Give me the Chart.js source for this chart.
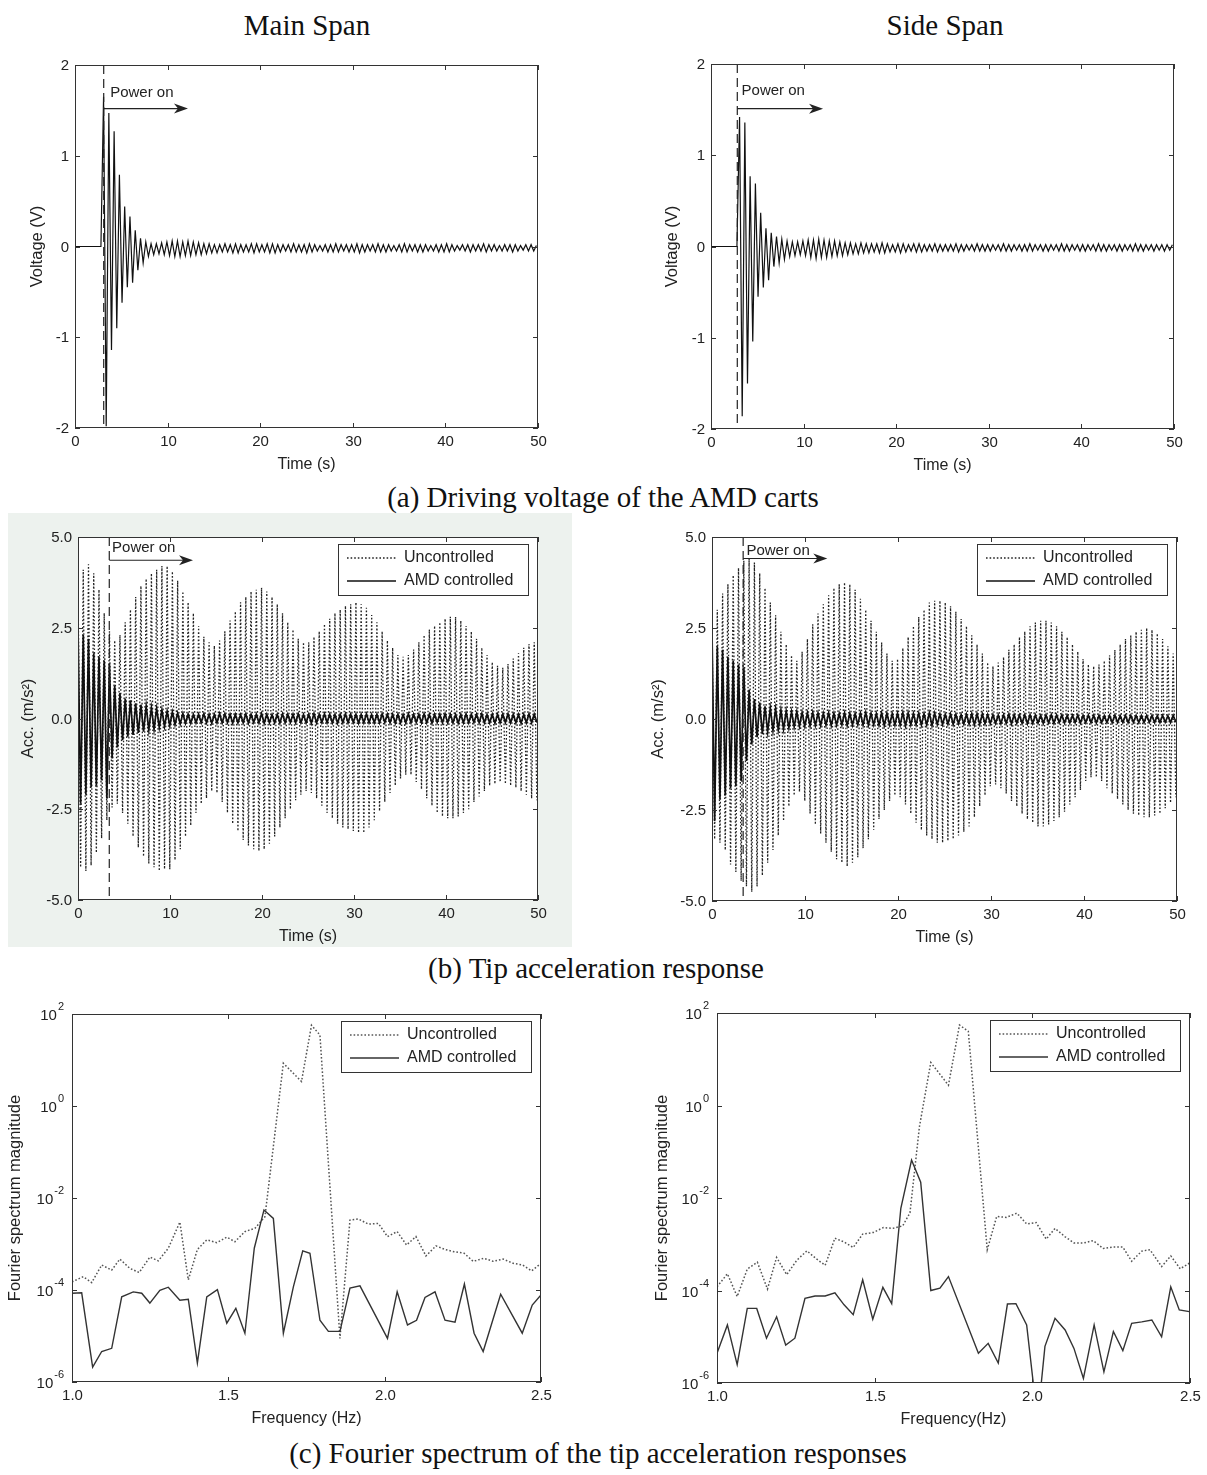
<!DOCTYPE html>
<html>
<head>
<meta charset="utf-8">
<script src="https://cdn.jsdelivr.net/npm/chart.js@4/dist/chart.umd.min.js"></script>
<style>
  body { margin: 0; width: 1207px; height: 1475px; position: relative; overflow: hidden; background: #fff; }
  canvas { position: absolute; }
  .cap { position: absolute; transform: translate(-50%, -50%); white-space: nowrap;
         font-family: "Liberation Serif", "Times New Roman", serif; font-size: 29px; color: #111; }
  #shade { position: absolute; left: 8px; top: 513px; width: 564px; height: 434px; background: #edf2ee; }
</style>
</head>
<body>
<div id="shade"></div>
<div class="cap" style="left:307px;top:25px">Main Span</div>
<div class="cap" style="left:945px;top:25px">Side Span</div>
<div class="cap" style="left:603px;top:497px">(a) Driving voltage of the AMD carts</div>
<div class="cap" style="left:596px;top:968px">(b) Tip acceleration response</div>
<div class="cap" style="left:598px;top:1453px">(c) Fourier spectrum of the tip acceleration responses</div>

<canvas id="voltMainChart"></canvas>
<canvas id="voltSideChart"></canvas>
<canvas id="accMainChart"></canvas>
<canvas id="accSideChart"></canvas>
<canvas id="fftMainChart"></canvas>
<canvas id="fftSideChart"></canvas>

<script>
// peak values are stored once per half cycle, sampled every timeStep seconds
const timeStep = 0.285;
const voltStart = 2.8;

const timeTicks = [0, 10, 20, 30, 40, 50];
const voltTicks = [-2, -1, 0, 1, 2];
const accTicks = [-5, -2.5, 0, 2.5, 5];
const accTickLabels = ['-5.0', '-2.5', '0.0', '2.5', '5.0'];
const freqTicks = [1, 1.5, 2, 2.5];
const freqTickLabels = ['1.0', '1.5', '2.0', '2.5'];
const magTicks = [1e-6, 1e-4, 1e-2, 1, 100];
const magExponents = ['-6', '-4', '-2', '0', '2'];

// driving voltage (V), from the moment the AMD is switched on
const voltMain = [
  0, 1.65, -1.98, 1.47, -1.14, 1.27, -0.9, 0.79, -0.62, 0.44,
  -0.45, 0.33, -0.4, 0.18, -0.26, 0.09, -0.18, 0.05, -0.11, 0.03,
  -0.09, 0.03, -0.08, 0.04, -0.09, 0.05, -0.1, 0.06, -0.11, 0.06,
  -0.11, 0.05, -0.1, 0.06, -0.1, 0.05, -0.09, 0.04, -0.09, 0.03,
  -0.08, 0.03, -0.07, 0.02, -0.07, 0.02, -0.06, 0.03, -0.06, 0.02,
  -0.07, 0.03, -0.07, 0.02, -0.06, 0.02, -0.06, 0.03, -0.07, 0.03,
  -0.06, 0.02, -0.06, 0.03, -0.07, 0.03, -0.07, 0.02, -0.06, 0.02,
  -0.05, 0.02, -0.06, 0.03, -0.06, 0.02, -0.06, 0.02, -0.07, 0.03,
  -0.06, 0.02, -0.05, 0.01, -0.05, 0.02, -0.06, 0.02, -0.06, 0.03,
  -0.06, 0.02, -0.05, 0.02, -0.06, 0.02, -0.06, 0.03, -0.07, 0.02,
  -0.06, 0.02, -0.05, 0.02, -0.06, 0.03, -0.06, 0.02, -0.06, 0.02,
  -0.05, 0.01, -0.05, 0.02, -0.06, 0.03, -0.06, 0.02, -0.05, 0.02,
  -0.06, 0.02, -0.06, 0.02, -0.05, 0.01, -0.05, 0.02, -0.06, 0.02,
  -0.06, 0.03, -0.06, 0.02, -0.05, 0.01, -0.04, 0.02, -0.05, 0.02,
  -0.06, 0.02, -0.05, 0.02, -0.05, 0.03, -0.06, 0.02, -0.05, 0.02,
  -0.05, 0.01, -0.05, 0.02, -0.05, 0.02, -0.06, 0.02, -0.05, 0.01,
  -0.04, 0.02, -0.05, 0.02, -0.05, 0.01
];
const voltSide = [
  0, 1.42, -1.86, 1.36, -1.5, 0.77, -1.04, 0.69, -0.55, 0.37,
  -0.45, 0.2, -0.37, 0.15, -0.22, 0.11, -0.18, 0.08, -0.14, 0.06,
  -0.11, 0.05, -0.1, 0.05, -0.09, 0.06, -0.1, 0.07, -0.12, 0.07,
  -0.13, 0.08, -0.12, 0.07, -0.12, 0.06, -0.11, 0.06, -0.1, 0.05,
  -0.1, 0.04, -0.09, 0.04, -0.08, 0.03, -0.08, 0.04, -0.07, 0.03,
  -0.07, 0.03, -0.06, 0.03, -0.07, 0.04, -0.07, 0.03, -0.06, 0.02,
  -0.06, 0.03, -0.07, 0.03, -0.06, 0.02, -0.05, 0.03, -0.06, 0.03,
  -0.06, 0.02, -0.05, 0.02, -0.05, 0.03, -0.06, 0.02, -0.05, 0.02,
  -0.05, 0.02, -0.05, 0.03, -0.06, 0.02, -0.05, 0.02, -0.04, 0.02,
  -0.05, 0.03, -0.05, 0.02, -0.05, 0.02, -0.05, 0.02, -0.04, 0.02,
  -0.05, 0.03, -0.05, 0.02, -0.05, 0.02, -0.04, 0.02, -0.05, 0.02,
  -0.05, 0.03, -0.05, 0.02, -0.04, 0.02, -0.05, 0.02, -0.05, 0.02,
  -0.04, 0.02, -0.05, 0.03, -0.05, 0.02, -0.05, 0.02, -0.04, 0.02,
  -0.05, 0.02, -0.05, 0.02, -0.04, 0.02, -0.05, 0.03, -0.05, 0.02,
  -0.05, 0.02, -0.04, 0.02, -0.05, 0.02, -0.05, 0.02, -0.04, 0.02,
  -0.05, 0.03, -0.05, 0.02, -0.05, 0.02, -0.04, 0.02, -0.05, 0.02,
  -0.04, 0.02, -0.05, 0.02, -0.04, 0.02
];

// tip acceleration (m/s2), from t = 0
const accMainUnc = [
  3.9, -4.1, 4.1, -4.2, 4.25, -4.05, 4.0, -3.7, 3.55, -3.3,
  2.9, -2.8, 2.4, -2.45, 2.15, -2.35, 2.3, -2.6, 2.65, -2.9,
  3.0, -3.25, 3.35, -3.55, 3.65, -3.8, 3.85, -4.0, 4.0, -4.1,
  4.1, -4.2, 4.2, -4.15, 4.2, -4.15, 4.05, -3.9, 3.8, -3.6,
  3.5, -3.25, 3.2, -2.95, 2.9, -2.6, 2.55, -2.35, 2.25, -2.2,
  2.1, -2.0, 2.0, -2.05, 2.15, -2.3, 2.4, -2.6, 2.7, -2.9,
  2.95, -3.1, 3.2, -3.35, 3.35, -3.5, 3.5, -3.6, 3.55, -3.65,
  3.6, -3.6, 3.5, -3.45, 3.35, -3.25, 3.15, -3.0, 2.9, -2.75,
  2.65, -2.5, 2.45, -2.25, 2.2, -2.1, 2.1, -2.0, 2.1, -2.05,
  2.25, -2.2, 2.4, -2.4, 2.6, -2.6, 2.75, -2.75, 2.9, -2.9,
  3.0, -3.0, 3.1, -3.05, 3.15, -3.1, 3.2, -3.15, 3.15, -3.15,
  3.05, -3.0, 2.85, -2.8, 2.65, -2.55, 2.4, -2.3, 2.15, -2.05,
  1.95, -1.85, 1.75, -1.65, 1.7, -1.55, 1.75, -1.55, 1.9, -1.75,
  2.1, -1.95, 2.3, -2.2, 2.45, -2.4, 2.55, -2.6, 2.65, -2.7,
  2.75, -2.75, 2.8, -2.75, 2.8, -2.7, 2.7, -2.6, 2.55, -2.5,
  2.4, -2.3, 2.2, -2.15, 1.95, -2.0, 1.75, -1.85, 1.55, -1.8,
  1.45, -1.75, 1.4, -1.8, 1.5, -1.85, 1.65, -1.9, 1.8, -2.0,
  1.95, -2.1, 2.05, -2.2, 2.1, -2.25
];
const accMainCtrl = [
  2.5, -2.35, 2.3, -2.1, 2.2, -1.9, 1.8, -1.85, 1.7, -1.7,
  1.6, -2.2, 1.5, -1.1, 0.9, -0.8, 0.7, -0.6, 0.55, -0.5,
  0.5, -0.45, 0.42, -0.4, 0.38, -0.36, 0.35, -0.32, 0.3, -0.3,
  0.28, -0.25, 0.24, -0.22, 0.2, -0.2, 0.18, -0.17, 0.15, -0.15,
  0.14, -0.13, 0.12, -0.13, 0.11, -0.12, 0.12, -0.11, 0.13, -0.12,
  0.12, -0.13, 0.11, -0.12, 0.14, -0.12, 0.13, -0.11, 0.12, -0.13,
  0.12, -0.12, 0.11, -0.12, 0.13, -0.13, 0.12, -0.11, 0.12, -0.12,
  0.14, -0.13, 0.12, -0.12, 0.11, -0.12, 0.12, -0.13, 0.13, -0.12,
  0.12, -0.11, 0.12, -0.12, 0.13, -0.12, 0.11, -0.12, 0.12, -0.13,
  0.14, -0.12, 0.12, -0.11, 0.13, -0.12, 0.12, -0.12, 0.11, -0.13,
  0.12, -0.12, 0.13, -0.12, 0.12, -0.11, 0.12, -0.13, 0.12, -0.12,
  0.13, -0.12, 0.11, -0.12, 0.12, -0.12, 0.13, -0.11, 0.12, -0.12,
  0.12, -0.13, 0.12, -0.12, 0.11, -0.12, 0.13, -0.12, 0.12, -0.11,
  0.12, -0.12, 0.13, -0.12, 0.12, -0.13, 0.12, -0.11, 0.12, -0.12,
  0.13, -0.12, 0.12, -0.12, 0.11, -0.13, 0.12, -0.12, 0.13, -0.12,
  0.12, -0.11, 0.12, -0.12, 0.13, -0.12, 0.11, -0.12, 0.12, -0.13,
  0.12, -0.12, 0.12, -0.11, 0.13, -0.12, 0.12, -0.12, 0.11, -0.13,
  0.12, -0.12, 0.13, -0.12, 0.12, -0.11
];
const accSideUnc = [
  2.5, -3.3, 3.0, -3.4, 3.45, -3.6, 3.7, -4.0, 3.95, -4.2,
  4.15, -4.45, 4.35, -4.6, 4.4, -4.75, 4.3, -4.6, 4.0, -4.3,
  3.6, -3.95, 3.2, -3.6, 2.85, -3.2, 2.4, -2.8, 2.05, -2.4,
  1.75, -2.1, 1.6, -2.0, 1.85, -2.25, 2.2, -2.6, 2.6, -2.9,
  2.9, -3.15, 3.15, -3.4, 3.4, -3.65, 3.6, -3.85, 3.7, -3.95,
  3.75, -4.05, 3.7, -3.95, 3.55, -3.8, 3.3, -3.55, 3.0, -3.3,
  2.7, -3.05, 2.4, -2.75, 2.1, -2.5, 1.8, -2.25, 1.6, -2.1,
  1.65, -2.15, 1.95, -2.35, 2.25, -2.6, 2.55, -2.85, 2.8, -3.05,
  3.0, -3.2, 3.2, -3.3, 3.25, -3.4, 3.25, -3.4, 3.2, -3.35,
  3.1, -3.3, 2.95, -3.2, 2.75, -3.1, 2.55, -2.95, 2.3, -2.7,
  2.05, -2.4, 1.8, -2.1, 1.55, -1.85, 1.45, -1.8, 1.55, -1.9,
  1.7, -2.05, 1.9, -2.25, 2.05, -2.4, 2.25, -2.6, 2.4, -2.75,
  2.55, -2.85, 2.65, -2.95, 2.7, -2.95, 2.7, -2.9, 2.65, -2.8,
  2.55, -2.7, 2.4, -2.55, 2.25, -2.35, 2.05, -2.15, 1.85, -1.95,
  1.65, -1.7, 1.5, -1.6, 1.45, -1.6, 1.5, -1.7, 1.6, -1.9,
  1.75, -2.05, 1.9, -2.2, 2.05, -2.35, 2.2, -2.5, 2.3, -2.6,
  2.4, -2.65, 2.45, -2.7, 2.5, -2.7, 2.45, -2.65, 2.35, -2.6,
  2.2, -2.45, 2.0, -2.3, 1.8, -2.15
];
const accSideCtrl = [
  2.45, -2.8, 2.0, -2.2, 1.9, -2.1, 1.7, -1.9, 1.6, -1.85,
  1.5, -1.7, 1.4, -1.15, 0.8, -0.7, 0.55, -0.5, 0.45, -0.42,
  0.35, -0.35, 0.3, -0.32, 0.28, -0.3, 0.25, -0.28, 0.22, -0.25,
  0.2, -0.22, 0.2, -0.2, 0.18, -0.2, 0.17, -0.19, 0.18, -0.18,
  0.17, -0.18, 0.16, -0.17, 0.17, -0.18, 0.16, -0.17, 0.15, -0.16,
  0.17, -0.18, 0.16, -0.17, 0.15, -0.16, 0.16, -0.17, 0.18, -0.17,
  0.16, -0.16, 0.15, -0.17, 0.17, -0.18, 0.16, -0.16, 0.15, -0.17,
  0.16, -0.17, 0.18, -0.19, 0.17, -0.16, 0.15, -0.16, 0.16, -0.17,
  0.15, -0.16, 0.17, -0.18, 0.16, -0.15, 0.14, -0.15, 0.13, -0.14,
  0.14, -0.15, 0.13, -0.13, 0.12, -0.14, 0.13, -0.14, 0.15, -0.16,
  0.14, -0.15, 0.14, -0.13, 0.12, -0.13, 0.12, -0.12, 0.11, -0.13,
  0.12, -0.12, 0.13, -0.14, 0.12, -0.12, 0.11, -0.12, 0.12, -0.13,
  0.12, -0.12, 0.11, -0.11, 0.1, -0.12, 0.11, -0.11, 0.12, -0.12,
  0.11, -0.1, 0.11, -0.11, 0.1, -0.11, 0.1, -0.1, 0.11, -0.11,
  0.1, -0.1, 0.11, -0.1, 0.1, -0.11, 0.1, -0.1, 0.09, -0.1,
  0.1, -0.1, 0.11, -0.1, 0.09, -0.1, 0.1, -0.1, 0.1, -0.09,
  0.1, -0.1, 0.09, -0.1, 0.1, -0.09, 0.1, -0.1, 0.09, -0.1,
  0.1, -0.09, 0.09, -0.1, 0.1, -0.09
];

// Fourier spectra of the tip acceleration
const fftMainUncFreq = [1.0, 1.036, 1.063, 1.095, 1.127, 1.153, 1.185, 1.215, 1.249, 1.276, 1.308, 1.345, 1.372, 1.401, 1.431, 1.463, 1.495, 1.521, 1.553, 1.585, 1.617, 1.676, 1.734, 1.766, 1.793, 1.857, 1.889, 1.916, 1.948, 1.98, 2.009, 2.04, 2.07, 2.1, 2.132, 2.164, 2.193, 2.222, 2.254, 2.283, 2.317, 2.347, 2.379, 2.411, 2.441, 2.47, 2.5];
const fftMainUncMag = [1.5e-4, 1.95e-4, 1.45e-4, 3.5e-4, 2.7e-4, 4.7e-4, 2.95e-4, 2.4e-4, 5.2e-4, 4.3e-4, 8.1e-4, 3.0e-3, 1.66e-4, 7.6e-4, 1.23e-3, 1.07e-3, 1.41e-3, 1.12e-3, 1.86e-3, 2.2e-3, 3.9e-3, 8.5, 3.4, 57, 35, 8.9e-6, 3.3e-3, 3.5e-3, 2.7e-3, 2.8e-3, 1.45e-3, 1.86e-3, 9.5e-4, 1.45e-3, 5.5e-4, 9.1e-4, 7.6e-4, 6.8e-4, 6.3e-4, 4.2e-4, 4.9e-4, 4.2e-4, 4.7e-4, 3.8e-4, 3.5e-4, 2.6e-4, 3.8e-4];
const fftMainCtrlFreq = [1.0, 1.031, 1.066, 1.095, 1.127, 1.159, 1.196, 1.223, 1.249, 1.281, 1.308, 1.345, 1.372, 1.401, 1.431, 1.465, 1.495, 1.524, 1.553, 1.583, 1.614, 1.644, 1.676, 1.708, 1.738, 1.761, 1.793, 1.82, 1.857, 1.889, 1.921, 2.009, 2.04, 2.073, 2.102, 2.129, 2.161, 2.193, 2.225, 2.255, 2.286, 2.315, 2.371, 2.44, 2.472, 2.5];
const fftMainCtrlMag = [8.5e-5, 8.7e-5, 2.1e-6, 4.6e-6, 5.4e-6, 7.1e-5, 9.1e-5, 8.5e-5, 5.2e-5, 9.8e-5, 1.15e-4, 6.0e-5, 6.3e-5, 2.6e-6, 7.1e-5, 1.02e-4, 1.9e-5, 4.0e-5, 1.15e-5, 8.1e-4, 5.5e-3, 3.6e-3, 1.15e-5, 1.17e-4, 7.1e-4, 6.3e-4, 2.2e-5, 1.26e-5, 1.26e-5, 1.1e-4, 1.23e-4, 8.9e-6, 9.1e-5, 1.74e-5, 2.2e-5, 6.9e-5, 9.1e-5, 2.2e-5, 2.0e-5, 1.35e-4, 1.15e-5, 4.6e-6, 8.1e-5, 1.15e-5, 4.7e-5, 7.8e-5];
const fftSideUncFreq = [1.0, 1.033, 1.064, 1.096, 1.128, 1.16, 1.189, 1.221, 1.253, 1.285, 1.314, 1.343, 1.374, 1.403, 1.432, 1.462, 1.496, 1.528, 1.557, 1.589, 1.612, 1.642, 1.678, 1.734, 1.769, 1.797, 1.857, 1.887, 1.917, 1.951, 1.982, 2.012, 2.044, 2.072, 2.104, 2.132, 2.164, 2.193, 2.225, 2.255, 2.287, 2.315, 2.347, 2.373, 2.41, 2.439, 2.469, 2.498];
const fftSideUncMag = [1.2e-4, 2.3e-4, 7.4e-5, 2.9e-4, 4.1e-4, 1.07e-4, 5.2e-4, 2.2e-4, 4.5e-4, 7.2e-4, 4.9e-4, 3.5e-4, 1.35e-3, 1.12e-3, 8.5e-4, 1.66e-3, 1.8e-3, 2.3e-3, 2.2e-3, 2.5e-3, 4.8e-3, 0.35, 8.5, 2.75, 55, 40, 7.6e-4, 4.0e-3, 3.8e-3, 4.7e-3, 2.75e-3, 2.95e-3, 1.29e-3, 2.2e-3, 1.45e-3, 1.07e-3, 1.07e-3, 1.2e-3, 8.1e-4, 8.7e-4, 8.7e-4, 4.3e-4, 7.1e-4, 7.6e-4, 3.3e-4, 5.6e-4, 2.95e-4, 3.9e-4];
const fftSideCtrlFreq = [1.0, 1.033, 1.064, 1.096, 1.126, 1.157, 1.189, 1.218, 1.247, 1.279, 1.311, 1.343, 1.374, 1.403, 1.432, 1.462, 1.494, 1.526, 1.554, 1.583, 1.617, 1.646, 1.678, 1.707, 1.734, 1.829, 1.86, 1.892, 1.921, 1.948, 1.982, 2.008, 2.024, 2.04, 2.072, 2.104, 2.132, 2.162, 2.196, 2.227, 2.257, 2.287, 2.315, 2.347, 2.379, 2.41, 2.439, 2.466, 2.498];
const fftSideCtrlMag = [4.4e-6, 1.8e-5, 2.5e-6, 4.1e-5, 4.1e-5, 9.3e-6, 2.7e-5, 6.6e-6, 9.3e-6, 6.8e-5, 7.6e-5, 7.6e-5, 8.9e-5, 4.9e-5, 3.0e-5, 1.7e-4, 2.4e-5, 1.17e-4, 5.2e-5, 6.0e-3, 6.6e-2, 2.2e-2, 1.0e-4, 1.12e-4, 2.0e-4, 4.4e-6, 7.2e-6, 2.7e-6, 5.1e-5, 5.2e-5, 1.8e-5, 5e-7, 5e-7, 6.2e-6, 2.5e-5, 1.4e-5, 5.6e-6, 1.26e-6, 1.8e-5, 1.74e-6, 1.3e-5, 5.0e-6, 1.95e-5, 2.1e-5, 2.3e-5, 1.0e-5, 1.2e-4, 3.8e-5, 3.5e-5];

const sans = '"Liberation Sans", Arial, sans-serif';

function peaks(t0, vals) {
  return vals.map((v, i) => ({ x: t0 + i * timeStep, y: v }));
}
function pairs(xs, ys) {
  return xs.map((x, i) => ({ x: x, y: ys[i] }));
}

function solidLine(label, data, color, width) {
  return { label: label, data: data, borderColor: color || '#111', borderWidth: width || 1.2,
           pointRadius: 0, fill: false, tension: 0 };
}
function dottedLine(label, data, color, width) {
  const ds = solidLine(label, data, color || '#222', width || 1.2);
  ds.borderDash = [1.6, 2];
  return ds;
}

// axes, ticks, legend and power-on marker for each panel
const panels = {};

function line(ctx, x1, y1, x2, y2) {
  ctx.beginPath(); ctx.moveTo(x1, y1); ctx.lineTo(x2, y2); ctx.stroke();
}

const framePlugin = {
  id: 'frame',
  beforeDatasetsDraw(chart) {
    const a = chart.chartArea, ctx = chart.ctx;
    ctx.save();
    ctx.fillStyle = '#fff';
    ctx.fillRect(a.left, a.top, a.right - a.left, a.bottom - a.top);
    ctx.restore();
  },
  afterDatasetsDraw(chart) {
    const cfg = panels[chart.canvas.id];
    const ctx = chart.ctx, a = chart.chartArea;
    const sx = chart.scales.x, sy = chart.scales.y;
    ctx.save();

    if (cfg.power) {
      const p = cfg.power;
      const px = sx.getPixelForValue(p.t), py = sy.getPixelForValue(p.y), pe = sx.getPixelForValue(p.end);
      ctx.strokeStyle = '#222'; ctx.fillStyle = '#222'; ctx.lineWidth = 1.2;
      ctx.setLineDash([9, 5]);
      line(ctx, px, a.top, px, a.bottom);
      ctx.setLineDash([]);
      line(ctx, px, py, pe - 6, py);
      ctx.beginPath();
      ctx.moveTo(pe, py); ctx.lineTo(pe - 14, py - 5); ctx.lineTo(pe - 10, py); ctx.lineTo(pe - 14, py + 5);
      ctx.closePath(); ctx.fill();
      ctx.font = '15px ' + sans; ctx.textAlign = 'left'; ctx.textBaseline = 'middle';
      ctx.fillText('Power on', sx.getPixelForValue(p.labelT), sy.getPixelForValue(p.labelY));
    }

    if (cfg.legend) {
      const bw = 190, bh = 51, bx = Math.round(a.right - 10 - bw), by = Math.round(a.top + 7);
      ctx.fillStyle = '#fff'; ctx.fillRect(bx, by, bw, bh);
      ctx.strokeStyle = '#333'; ctx.lineWidth = 1;
      ctx.strokeRect(bx + 0.5, by + 0.5, bw, bh);
      ctx.font = '16px ' + sans; ctx.textAlign = 'left'; ctx.textBaseline = 'middle';
      cfg.legend.forEach((name, k) => {
        const ds = chart.data.datasets.find(d => d.label === name);
        const y = by + 14 + k * 23;
        ctx.strokeStyle = ds.borderColor; ctx.lineWidth = Math.min(ds.borderWidth, 1.4);
        ctx.setLineDash(ds.borderDash || []);
        line(ctx, bx + 9, y, bx + 58, y);
        ctx.setLineDash([]);
        ctx.fillStyle = '#222';
        ctx.fillText(name, bx + 66, y);
      });
    }

    // box and inward ticks on all four sides
    ctx.strokeStyle = '#333'; ctx.lineWidth = 1;
    ctx.strokeRect(Math.round(a.left) + 0.5, Math.round(a.top) + 0.5,
                   Math.round(a.right - a.left) - 1, Math.round(a.bottom - a.top) - 1);
    ctx.fillStyle = '#222';
    ctx.font = '15px ' + sans;
    cfg.xTicks.forEach((v, i) => {
      const px = Math.round(sx.getPixelForValue(v)) + 0.5;
      line(ctx, px, a.bottom, px, a.bottom - 5);
      line(ctx, px, a.top, px, a.top + 5);
      ctx.textAlign = 'center'; ctx.textBaseline = 'top';
      ctx.fillText(cfg.xLabels[i], px, a.bottom + 6);
    });
    cfg.yTicks.forEach((v, i) => {
      const py = Math.round(sy.getPixelForValue(v)) + 0.5;
      line(ctx, a.left, py, a.left + 5, py);
      line(ctx, a.right, py, a.right - 5, py);
      ctx.textBaseline = 'middle';
      if (cfg.logLabels) {
        const exp = cfg.yLabels[i];
        ctx.font = '11px ' + sans;
        const ew = ctx.measureText(exp).width;
        ctx.textAlign = 'left';
        ctx.fillText(exp, a.left - 8 - ew, py - 8);
        ctx.font = '15px ' + sans;
        ctx.textAlign = 'right';
        ctx.fillText('10', a.left - 9 - ew, py + 1);
      } else {
        ctx.textAlign = 'right';
        ctx.fillText(cfg.yLabels[i], a.left - 6, py);
      }
    });

    ctx.font = '16px ' + sans; ctx.textAlign = 'center'; ctx.textBaseline = 'middle';
    ctx.fillText(cfg.xTitle, (a.left + a.right) / 2, a.bottom + 37);
    ctx.translate(a.left - cfg.yTitleOff, (a.top + a.bottom) / 2);
    ctx.rotate(-Math.PI / 2);
    ctx.font = '16.5px ' + sans;
    ctx.fillText(cfg.yTitle, 0, 0);
    ctx.restore();
  }
};

function makePanel(id, box, scales, datasets, cfg) {
  const pad = { left: 75, top: 12, right: 14, bottom: 52 };
  const cv = document.getElementById(id);
  cv.width = box.w + pad.left + pad.right;
  cv.height = box.h + pad.top + pad.bottom;
  cv.style.left = (box.x - pad.left) + 'px';
  cv.style.top = (box.y - pad.top) + 'px';
  panels[id] = cfg;
  new Chart(cv, {
    type: 'line',
    data: { datasets: datasets },
    options: {
      responsive: false,
      animation: false,
      devicePixelRatio: 1,
      layout: { padding: pad },
      scales: {
        x: Object.assign({ type: 'linear', display: false }, scales.x),
        y: Object.assign({ type: 'linear', display: false }, scales.y)
      },
      plugins: { legend: { display: false }, tooltip: { enabled: false } }
    },
    plugins: [framePlugin]
  });
}

const timeAxis = { min: 0, max: 50 };
const freqAxis = { min: 1, max: 2.5 };
const magAxis = { type: 'logarithmic', min: 1e-6, max: 100 };
const legendRows = ['Uncontrolled', 'AMD controlled'];

makePanel('voltMainChart', { x: 75, y: 65, w: 463, h: 363 },
  { x: timeAxis, y: { min: -2, max: 2 } },
  [solidLine('Voltage', [{ x: 0, y: 0 }].concat(peaks(voltStart, voltMain)), '#111', 1.2)],
  { xTicks: timeTicks, xLabels: timeTicks.map(String), yTicks: voltTicks, yLabels: voltTicks.map(String),
    xTitle: 'Time (s)', yTitle: 'Voltage (V)', yTitleOff: 38,
    power: { t: 3.1, y: 1.52, end: 12.2, labelT: 3.8, labelY: 1.69 } });

makePanel('voltSideChart', { x: 711, y: 64, w: 463, h: 365 },
  { x: timeAxis, y: { min: -2, max: 2 } },
  [solidLine('Voltage', [{ x: 0, y: 0 }].concat(peaks(voltStart, voltSide)), '#111', 1.2)],
  { xTicks: timeTicks, xLabels: timeTicks.map(String), yTicks: voltTicks, yLabels: voltTicks.map(String),
    xTitle: 'Time (s)', yTitle: 'Voltage (V)', yTitleOff: 39,
    power: { t: 2.84, y: 1.51, end: 12.1, labelT: 3.3, labelY: 1.71 } });

makePanel('accMainChart', { x: 78, y: 537, w: 460, h: 363 },
  { x: timeAxis, y: { min: -5, max: 5 } },
  [solidLine('AMD controlled', peaks(0, accMainCtrl), '#111', 1.7),
   dottedLine('Uncontrolled', peaks(0, accMainUnc), '#222', 1.3)],
  { xTicks: timeTicks, xLabels: timeTicks.map(String), yTicks: accTicks, yLabels: accTickLabels,
    xTitle: 'Time (s)', yTitle: 'Acc. (m/s\u00b2)', yTitleOff: 50, legend: legendRows,
    power: { t: 3.4, y: 4.36, end: 12.5, labelT: 3.7, labelY: 4.7 } });

makePanel('accSideChart', { x: 712, y: 537, w: 465, h: 364 },
  { x: timeAxis, y: { min: -5, max: 5 } },
  [solidLine('AMD controlled', peaks(0, accSideCtrl), '#111', 1.7),
   dottedLine('Uncontrolled', peaks(0, accSideUnc), '#222', 1.3)],
  { xTicks: timeTicks, xLabels: timeTicks.map(String), yTicks: accTicks, yLabels: accTickLabels,
    xTitle: 'Time (s)', yTitle: 'Acc. (m/s\u00b2)', yTitleOff: 54, legend: legendRows,
    power: { t: 3.35, y: 4.41, end: 12.4, labelT: 3.7, labelY: 4.62 } });

makePanel('fftMainChart', { x: 72, y: 1014, w: 469, h: 368 },
  { x: freqAxis, y: magAxis },
  [solidLine('AMD controlled', pairs(fftMainCtrlFreq, fftMainCtrlMag), '#333', 1.4),
   dottedLine('Uncontrolled', pairs(fftMainUncFreq, fftMainUncMag), '#555', 1.5)],
  { xTicks: freqTicks, xLabels: freqTickLabels, yTicks: magTicks, yLabels: magExponents, logLabels: true,
    xTitle: 'Frequency (Hz)', yTitle: 'Fourier spectrum magnitude', yTitleOff: 57, legend: legendRows });

makePanel('fftSideChart', { x: 717, y: 1013, w: 473, h: 370 },
  { x: freqAxis, y: magAxis },
  [solidLine('AMD controlled', pairs(fftSideCtrlFreq, fftSideCtrlMag), '#333', 1.4),
   dottedLine('Uncontrolled', pairs(fftSideUncFreq, fftSideUncMag), '#555', 1.5)],
  { xTicks: freqTicks, xLabels: freqTickLabels, yTicks: magTicks, yLabels: magExponents, logLabels: true,
    xTitle: 'Frequency(Hz)', yTitle: 'Fourier spectrum magnitude', yTitleOff: 55, legend: legendRows });
</script>
</body>
</html>
